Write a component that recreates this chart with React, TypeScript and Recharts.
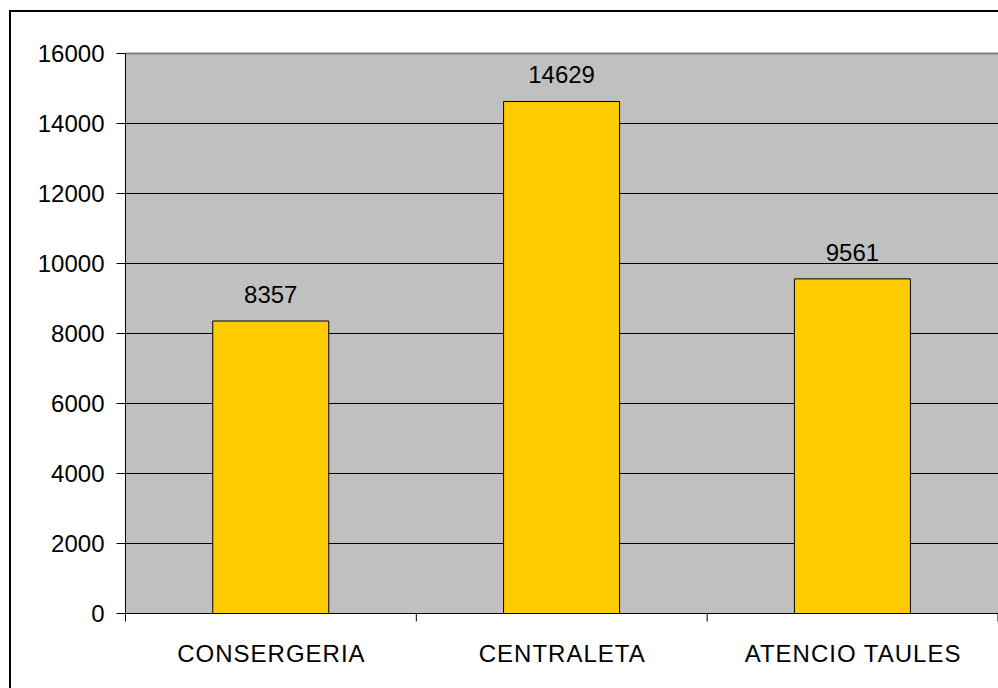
import { BarChart, Bar, XAxis, YAxis, CartesianGrid, ReferenceLine, LabelList } from 'recharts'

const categories = ['CONSERGERIA', 'CENTRALETA', 'ATENCIO TAULES']
const values = [8357, 14629, 9561]
const yTicks = [0, 2000, 4000, 6000, 8000, 10000, 12000, 14000, 16000]

const data = categories.map((name, i) => ({ name, value: values[i] }))

const FONT = '"Liberation Sans", Arial, sans-serif'
const X_TICK_MARGIN = 31

// category label in the middle, tick mark on the band boundary (Excel style)
function CategoryTick(props: any) {
  const { x, y, payload, width, visibleTicksCount, index } = props
  const half = width / visibleTicksCount / 2
  const axisY = y - X_TICK_MARGIN
  return (
    <g>
      <line x1={x - half} y1={axisY} x2={x - half} y2={axisY + 8} stroke="#000" strokeWidth={1} />
      {index === visibleTicksCount - 1 && (
        <line x1={x + half} y1={axisY} x2={x + half} y2={axisY + 8} stroke="#000" strokeWidth={1} />
      )}
      <text
        x={x + 0.5}
        y={y}
        dy="0.71em"
        textAnchor="middle"
        fill="#000"
        fontSize={24}
        letterSpacing={1}
        fontFamily={FONT}
      >
        {payload.value}
      </text>
    </g>
  )
}

export default function App() {
  return (
    <div style={{ position: 'absolute', left: 0, top: 0, width: 998, height: 688, overflow: 'hidden', background: '#fff' }}>
      <div
        style={{
          position: 'absolute',
          left: 9,
          top: 10,
          width: 1100,
          height: 800,
          border: '2px solid #000',
          boxSizing: 'border-box',
        }}
      />
      <div style={{ position: 'absolute', left: 0, top: 0 }}>
        <BarChart
          width={998}
          height={688.5}
          data={data}
          margin={{ top: 53.5, right: 0, bottom: 0, left: 0.5 }}
          barCategoryGap="30%"
          style={{ fontFamily: FONT }}
        >
          <CartesianGrid vertical={false} stroke="#000" fill="#C0C0C0" fillOpacity={1} />
          <ReferenceLine y={16000} stroke="#808080" strokeWidth={2} />
          <XAxis
            dataKey="name"
            height={75}
            axisLine={{ stroke: '#000' }}
            tickLine={false}
            tickSize={0}
            tickMargin={X_TICK_MARGIN}
            tick={<CategoryTick />}
            interval={0}
          />
          <YAxis
            width={125}
            domain={[0, 16000]}
            ticks={yTicks}
            interval={0}
            axisLine={{ stroke: '#000' }}
            tickLine={{ stroke: '#000' }}
            tickSize={9}
            tickMargin={12}
            tick={{ fill: '#000', fontSize: 24, fontFamily: FONT }}
          />
          <Bar dataKey="value" fill="#FFCC00" stroke="#000" strokeWidth={1} isAnimationActive={false}>
            <LabelList dataKey="value" position="top" offset={18} fill="#000" fontSize={24} fontFamily={FONT} />
          </Bar>
        </BarChart>
      </div>
    </div>
  )
}
